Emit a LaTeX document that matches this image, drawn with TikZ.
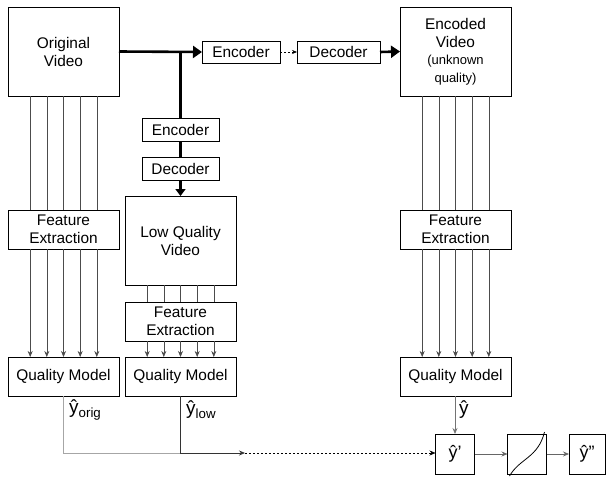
\documentclass[tikz,border=0pt]{standalone}
\usepackage{fontspec}
\setmainfont{Liberation Sans}
\usetikzlibrary{arrows.meta}
\begin{document}
\begin{tikzpicture}[x=1pt,y=-1pt,
  box/.style={draw, line width=0.8pt, inner sep=0pt, outer sep=0pt, align=center,
    font=\fontsize{15.4}{18}\selectfont},
  bigbox/.style={box, minimum width=111pt, minimum height=89pt},
  fbox/.style={box, minimum width=111pt, minimum height=39pt},
  sbox/.style={box, minimum height=22pt},
  tbox/.style={box, minimum width=39pt, minimum height=40pt, font=\fontsize{18}{20}\selectfont},
  thickarrow/.style={line width=2.6pt, -{Triangle[length=9pt,width=12pt]}},
  thickline/.style={line width=2.6pt},
  feat/.style={line width=0.6pt, draw=black!70},
  featarrow/.style={feat, -{Stealth[length=6pt,width=5pt]}},
  lbl/.style={inner sep=0pt, font=\fontsize{19}{20}\selectfont}
]
\useasboundingbox (0,0) rectangle (606,477);

% top row
\node[bigbox] (ov) at (63.5,51.5) {Original\\Video};
\node[sbox, minimum width=78pt] (enc1) at (241,52) {Encoder};
\node[sbox, minimum width=83pt] (dec1) at (338.5,52) {Decoder};
\node[bigbox] (ev) at (455.5,51.5) {Encoded\\Video\\[-1pt]\fontsize{13}{16}\selectfont (unknown\\\fontsize{13}{16}\selectfont quality)};

% middle column
\node[sbox, minimum width=77pt, minimum height=23pt] (enc2) at (180.5,129.5) {Encoder};
\node[sbox, minimum width=77pt, minimum height=23pt] (dec2) at (180.5,168.5) {Decoder};
\node[bigbox] (lqv) at (180.5,240.5) {Low Quality\\Video};

% feature extraction
\node[fbox] (fe1) at (63.5,229.5) {Feature\\Extraction};
\node[fbox] (fe2) at (180.5,321.5) {Feature\\Extraction};
\node[fbox] (fe3) at (455.5,229.5) {Feature\\Extraction};

% quality models
\node[fbox] (qm1) at (63.5,376.5) {Quality Model};
\node[fbox] (qm2) at (180.5,376.5) {Quality Model};
\node[fbox] (qm3) at (455.5,376.5) {Quality Model};

% bottom row
\node[tbox] (yp) at (455,454) {ŷ'};
\node[tbox] (sig) at (527,454) {};
\node[tbox, minimum width=36pt] (ypp) at (587,454) {ŷ''};

% main arrows
\draw[thickarrow] (ov.east) -- (enc1.west);
\coordinate (br) at (enc2.north |- ov.east);
\draw[thickline] (br) -- (enc2.north);
\draw[thickline] (enc2.south) -- (dec2.north);
\draw[line width=2.6pt, -{Triangle[length=7pt,width=10pt]}] (dec2.south) -- (lqv.north);
\draw[line width=0.6pt, dash pattern=on 2pt off 2pt, -{Stealth[length=5pt,width=4pt]}] (enc1.east) -- (dec1.west);
\draw[thickarrow] (dec1.east) -- (ev.west);

% feature lines
\foreach \dx in {-33.3,-16.7,0,16.7,33.3} {
  \draw[feat] ([xshift=\dx pt]ov.south) -- ([xshift=\dx pt]fe1.north);
  \draw[featarrow] ([xshift=\dx pt]fe1.south) -- ([xshift=\dx pt]qm1.north);
  \draw[feat] ([xshift=\dx pt]lqv.south) -- ([xshift=\dx pt]fe2.north);
  \draw[featarrow] ([xshift=\dx pt]fe2.south) -- ([xshift=\dx pt]qm2.north);
  \draw[feat] ([xshift=\dx pt]ev.south) -- ([xshift=\dx pt]fe3.north);
  \draw[featarrow] ([xshift=\dx pt]fe3.south) -- ([xshift=\dx pt]qm3.north);
}

% outputs
\coordinate (j2) at (qm2.south |- 0,453);
\coordinate (m) at (245,453);
\draw[line width=0.8pt, draw=black!35] (qm1.south) |- (j2);
\draw[line width=0.8pt, draw=black!80, -{Stealth[length=6pt,width=5pt]}] (qm2.south) -- (j2) -- (m);
\draw[line width=0.6pt, dash pattern=on 2pt off 2pt, -{Stealth[length=6pt,width=5pt]}] (m) -- (yp.west |- m);
\draw[line width=0.8pt, draw=black!55, -{Stealth[length=6pt,width=5pt]}] (qm3.south -| yp.north) -- (yp.north);
\draw[line width=0.7pt, draw=black!60, -{Stealth[length=6pt,width=5pt]}] (yp.east) -- (sig.west);
\draw[line width=0.7pt, draw=black!60, -{Stealth[length=6pt,width=5pt]}] (sig.east) -- (ypp.west);

% sigmoid
\draw[line width=0.8pt] ([shift={(2pt,-2pt)}]sig.south west) .. controls (520,458) and (538,458) .. ([shift={(-2pt,2pt)}]sig.north east);

% labels
\node[lbl, anchor=west] (lo) at (69,410) {ŷ\textsubscript{orig}};
\node[lbl, anchor=west] (ll) at (186,410) {ŷ\textsubscript{low}};
\node[lbl, anchor=west] (lm) at (459,410) {ŷ};
\end{tikzpicture}
\end{document}
